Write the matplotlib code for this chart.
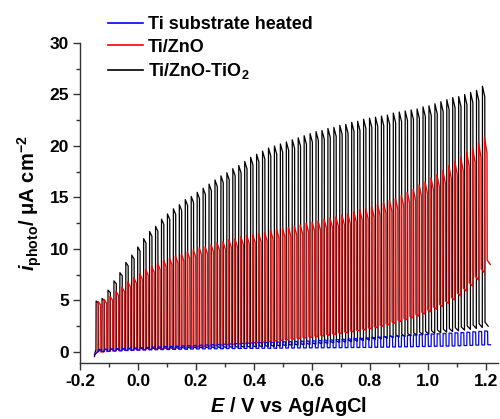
import numpy as np
import matplotlib
matplotlib.use('Agg')
import matplotlib.pyplot as plt
from matplotlib.lines import Line2D
from matplotlib.ticker import MultipleLocator

plt.rcParams['font.family'] = ['Liberation Sans', 'DejaVu Sans']
plt.rcParams['font.weight'] = 'bold'
plt.rcParams['mathtext.fontset'] = 'custom'
plt.rcParams['mathtext.rm'] = 'Liberation Sans:bold'
plt.rcParams['mathtext.it'] = 'Liberation Sans:bold:italic'
plt.rcParams['mathtext.bf'] = 'Liberation Sans:bold'

# ---------------- data ----------------
labels = ['Ti substrate heated', 'Ti/ZnO', 'Ti/ZnO-TiO$_2$']
colors = ['#0000ff', '#ff0000', '#000000']

chop_period = 0.0205          # V per light on/off cycle
scan_start = -0.15            # V

# Ti/ZnO-TiO2 (black): light-on peak and dark level of each cycle
black_first = -0.145
black_start = -0.45
black_peak = [4.95, 5.2, 6.0, 6.9, 7.7, 8.7, 9.4, 10.2, 11.0, 11.7,
              12.2, 12.9, 13.4, 13.9, 14.3, 14.8, 15.1, 15.5, 15.9, 16.3,
              16.7, 17.1, 17.4, 17.8, 18.1, 18.5, 18.9, 19.2, 19.5, 19.8,
              20.0, 20.2, 20.4, 20.6, 20.8, 21.0, 21.2, 21.4, 21.5, 21.7,
              21.8, 22.0, 22.1, 22.3, 22.4, 22.6, 22.7, 22.8, 22.9, 23.0,
              23.2, 23.3, 23.4, 23.5, 23.6, 23.8, 23.9, 24.1, 24.3, 24.5,
              24.7, 24.8, 25.0, 25.2, 25.4, 25.8]
black_dark = [0.10, 0.20, 0.22, 0.24, 0.26, 0.27, 0.28, 0.30, 0.31, 0.32,
              0.33, 0.34, 0.35, 0.36, 0.37, 0.38, 0.39, 0.40, 0.41, 0.42,
              0.43, 0.44, 0.45, 0.46, 0.47, 0.48, 0.50, 0.52, 0.54, 0.56,
              0.58, 0.61, 0.64, 0.67, 0.70, 0.73, 0.76, 0.80, 0.84, 0.88,
              0.92, 0.96, 1.00, 1.05, 1.10, 1.15, 1.20, 1.26, 1.32, 1.38,
              1.44, 1.50, 1.56, 1.62, 1.68, 1.74, 1.80, 1.86, 1.92, 1.98,
              2.05, 2.12, 2.20, 2.28, 2.38, 2.50]

# Ti/ZnO (red)
red_first = -0.138
red_start = -0.25
red_peak = [4.9, 5.1, 5.4, 5.9, 6.3, 6.8, 7.2, 7.6, 8.0, 8.3,
            8.6, 8.9, 9.1, 9.3, 9.5, 9.7, 9.9, 10.1, 10.2, 10.4,
            10.6, 10.7, 10.9, 11.0, 11.2, 11.3, 11.4, 11.5, 11.6, 11.8,
            11.9, 12.0, 12.1, 12.2, 12.3, 12.5, 12.6, 12.7, 12.9, 13.0,
            13.1, 13.3, 13.4, 13.6, 13.8, 13.9, 14.1, 14.3, 14.5, 14.7,
            14.9, 15.2, 15.5, 15.8, 16.2, 16.5, 16.9, 17.2, 17.6, 18.1,
            18.5, 18.9, 19.4, 19.8, 20.3, 20.8]
red_dark = [0.00, 0.05, 0.10, 0.13, 0.16, 0.18, 0.20, 0.22, 0.25, 0.28,
            0.31, 0.34, 0.37, 0.40, 0.43, 0.46, 0.50, 0.54, 0.58, 0.62,
            0.66, 0.70, 0.74, 0.78, 0.82, 0.86, 0.90, 0.95, 1.00, 1.06,
            1.12, 1.18, 1.24, 1.30, 1.36, 1.42, 1.48, 1.55, 1.62, 1.70,
            1.78, 1.86, 1.95, 2.04, 2.14, 2.24, 2.35, 2.48, 2.62, 2.78,
            2.95, 3.12, 3.30, 3.48, 3.68, 3.90, 4.15, 4.40, 4.70, 5.05,
            5.45, 5.90, 6.40, 7.00, 7.70, 8.50]

# Ti substrate heated (blue)
blue_first = -0.137
blue_start = -0.30
blue_peak = [0.25, 0.27, 0.29, 0.31, 0.33, 0.36, 0.39, 0.42, 0.44, 0.47,
             0.49, 0.52, 0.54, 0.56, 0.59, 0.61, 0.63, 0.66, 0.68, 0.71,
             0.73, 0.76, 0.78, 0.81, 0.84, 0.87, 0.89, 0.91, 0.93, 0.95,
             0.97, 0.99, 1.01, 1.03, 1.05, 1.07, 1.09, 1.12, 1.15, 1.18,
             1.21, 1.24, 1.27, 1.30, 1.34, 1.38, 1.42, 1.46, 1.50, 1.54,
             1.57, 1.60, 1.63, 1.66, 1.69, 1.72, 1.75, 1.78, 1.81, 1.84,
             1.87, 1.90, 1.93, 1.97, 2.01, 2.05]
blue_dark = [0.05, 0.08, 0.10, 0.12, 0.14, 0.16, 0.18, 0.20, 0.21, 0.22,
             0.23, 0.24, 0.25, 0.26, 0.27, 0.28, 0.29, 0.30, 0.31, 0.31,
             0.32, 0.33, 0.33, 0.34, 0.34, 0.35, 0.35, 0.36, 0.36, 0.37,
             0.37, 0.38, 0.38, 0.39, 0.39, 0.40, 0.40, 0.40, 0.41, 0.41,
             0.42, 0.42, 0.43, 0.43, 0.44, 0.44, 0.45, 0.46, 0.47, 0.48,
             0.49, 0.50, 0.51, 0.52, 0.53, 0.54, 0.55, 0.56, 0.57, 0.58,
             0.60, 0.62, 0.64, 0.66, 0.68, 0.70]

x_ticks = [-0.2, 0.0, 0.2, 0.4, 0.6, 0.8, 1.0, 1.2]
y_ticks = [0, 5, 10, 15, 20, 25, 30]


def chopped(first, start, peaks, darks, on_frac, decay, tail):
    """Build the light-on/light-off trace from per-cycle peak and dark levels."""
    xs = [scan_start, first - 0.1 * chop_period]
    ys = [start, darks[0]]
    prev = darks[0]
    for k, (pk, dk) in enumerate(zip(peaks, darks)):
        e = first + k * chop_period
        xs += [e, e + 0.03 * chop_period, e + on_frac * chop_period,
               e + (on_frac + 0.04) * chop_period, e + chop_period]
        ys += [prev, pk, pk * decay, dk * tail, dk]
        prev = dk
    return np.array(xs), np.array(ys)


fig = plt.figure(figsize=(5.0, 4.19), dpi=100)
ax = fig.add_axes([0.16, 0.1337, 0.835, 0.7637])

bx, by = chopped(black_first, black_start, black_peak, black_dark, 0.42, 0.96, 1.15)
rx, ry = chopped(red_first, red_start, red_peak, red_dark, 0.45, 0.93, 1.05)
ux, uy = chopped(blue_first, blue_start, blue_peak, blue_dark, 0.50, 0.98, 1.0)

ax.plot(bx, by, color=colors[2], lw=0.9)
ax.plot(rx, ry, color=colors[1], lw=1.0)
ax.plot(ux, uy, color=colors[0], lw=0.9)

ax.set_xlim(-0.2, 1.24)
ax.set_ylim(-1.07, 30)
ax.set_xticks(x_ticks)
ax.set_xticklabels([f'{v:.1f}' for v in x_ticks])
ax.set_yticks(y_ticks)
ax.xaxis.set_minor_locator(MultipleLocator(0.1))
ax.yaxis.set_minor_locator(MultipleLocator(2.5))

for s in ['top', 'right']:
    ax.spines[s].set_visible(False)
for s in ['left', 'bottom']:
    ax.spines[s].set_color('#333333')
    ax.spines[s].set_linewidth(1.0)
ax.tick_params(which='major', direction='out', length=5, width=1.0,
               color='#333333', labelsize=12.5, pad=3)
ax.tick_params(which='minor', direction='out', length=3, width=1.0, color='#333333')
for lab in ax.get_xticklabels() + ax.get_yticklabels():
    lab.set_fontweight('bold')

ax.set_xlabel('$\\mathit{E}$ / V vs Ag/AgCl', fontsize=14.5, fontweight='bold', labelpad=4)
ax.set_ylabel('$\\mathit{i}_{\\mathrm{photo}}$/ μA cm$^{-2}$', fontsize=14.5,
              fontweight='bold', labelpad=4)

handles = [Line2D([0], [0], color=c, lw=1.2) for c in colors]
ax.legend(handles, labels, loc='upper left', bbox_to_anchor=(0.216, 0.962),
          bbox_transform=fig.transFigure, frameon=False,
          handlelength=1.95, handletextpad=0.25, labelspacing=0.32,
          borderaxespad=0, borderpad=0, prop={'weight': 'bold', 'size': 13})

fig.savefig('out.png', dpi=100)
